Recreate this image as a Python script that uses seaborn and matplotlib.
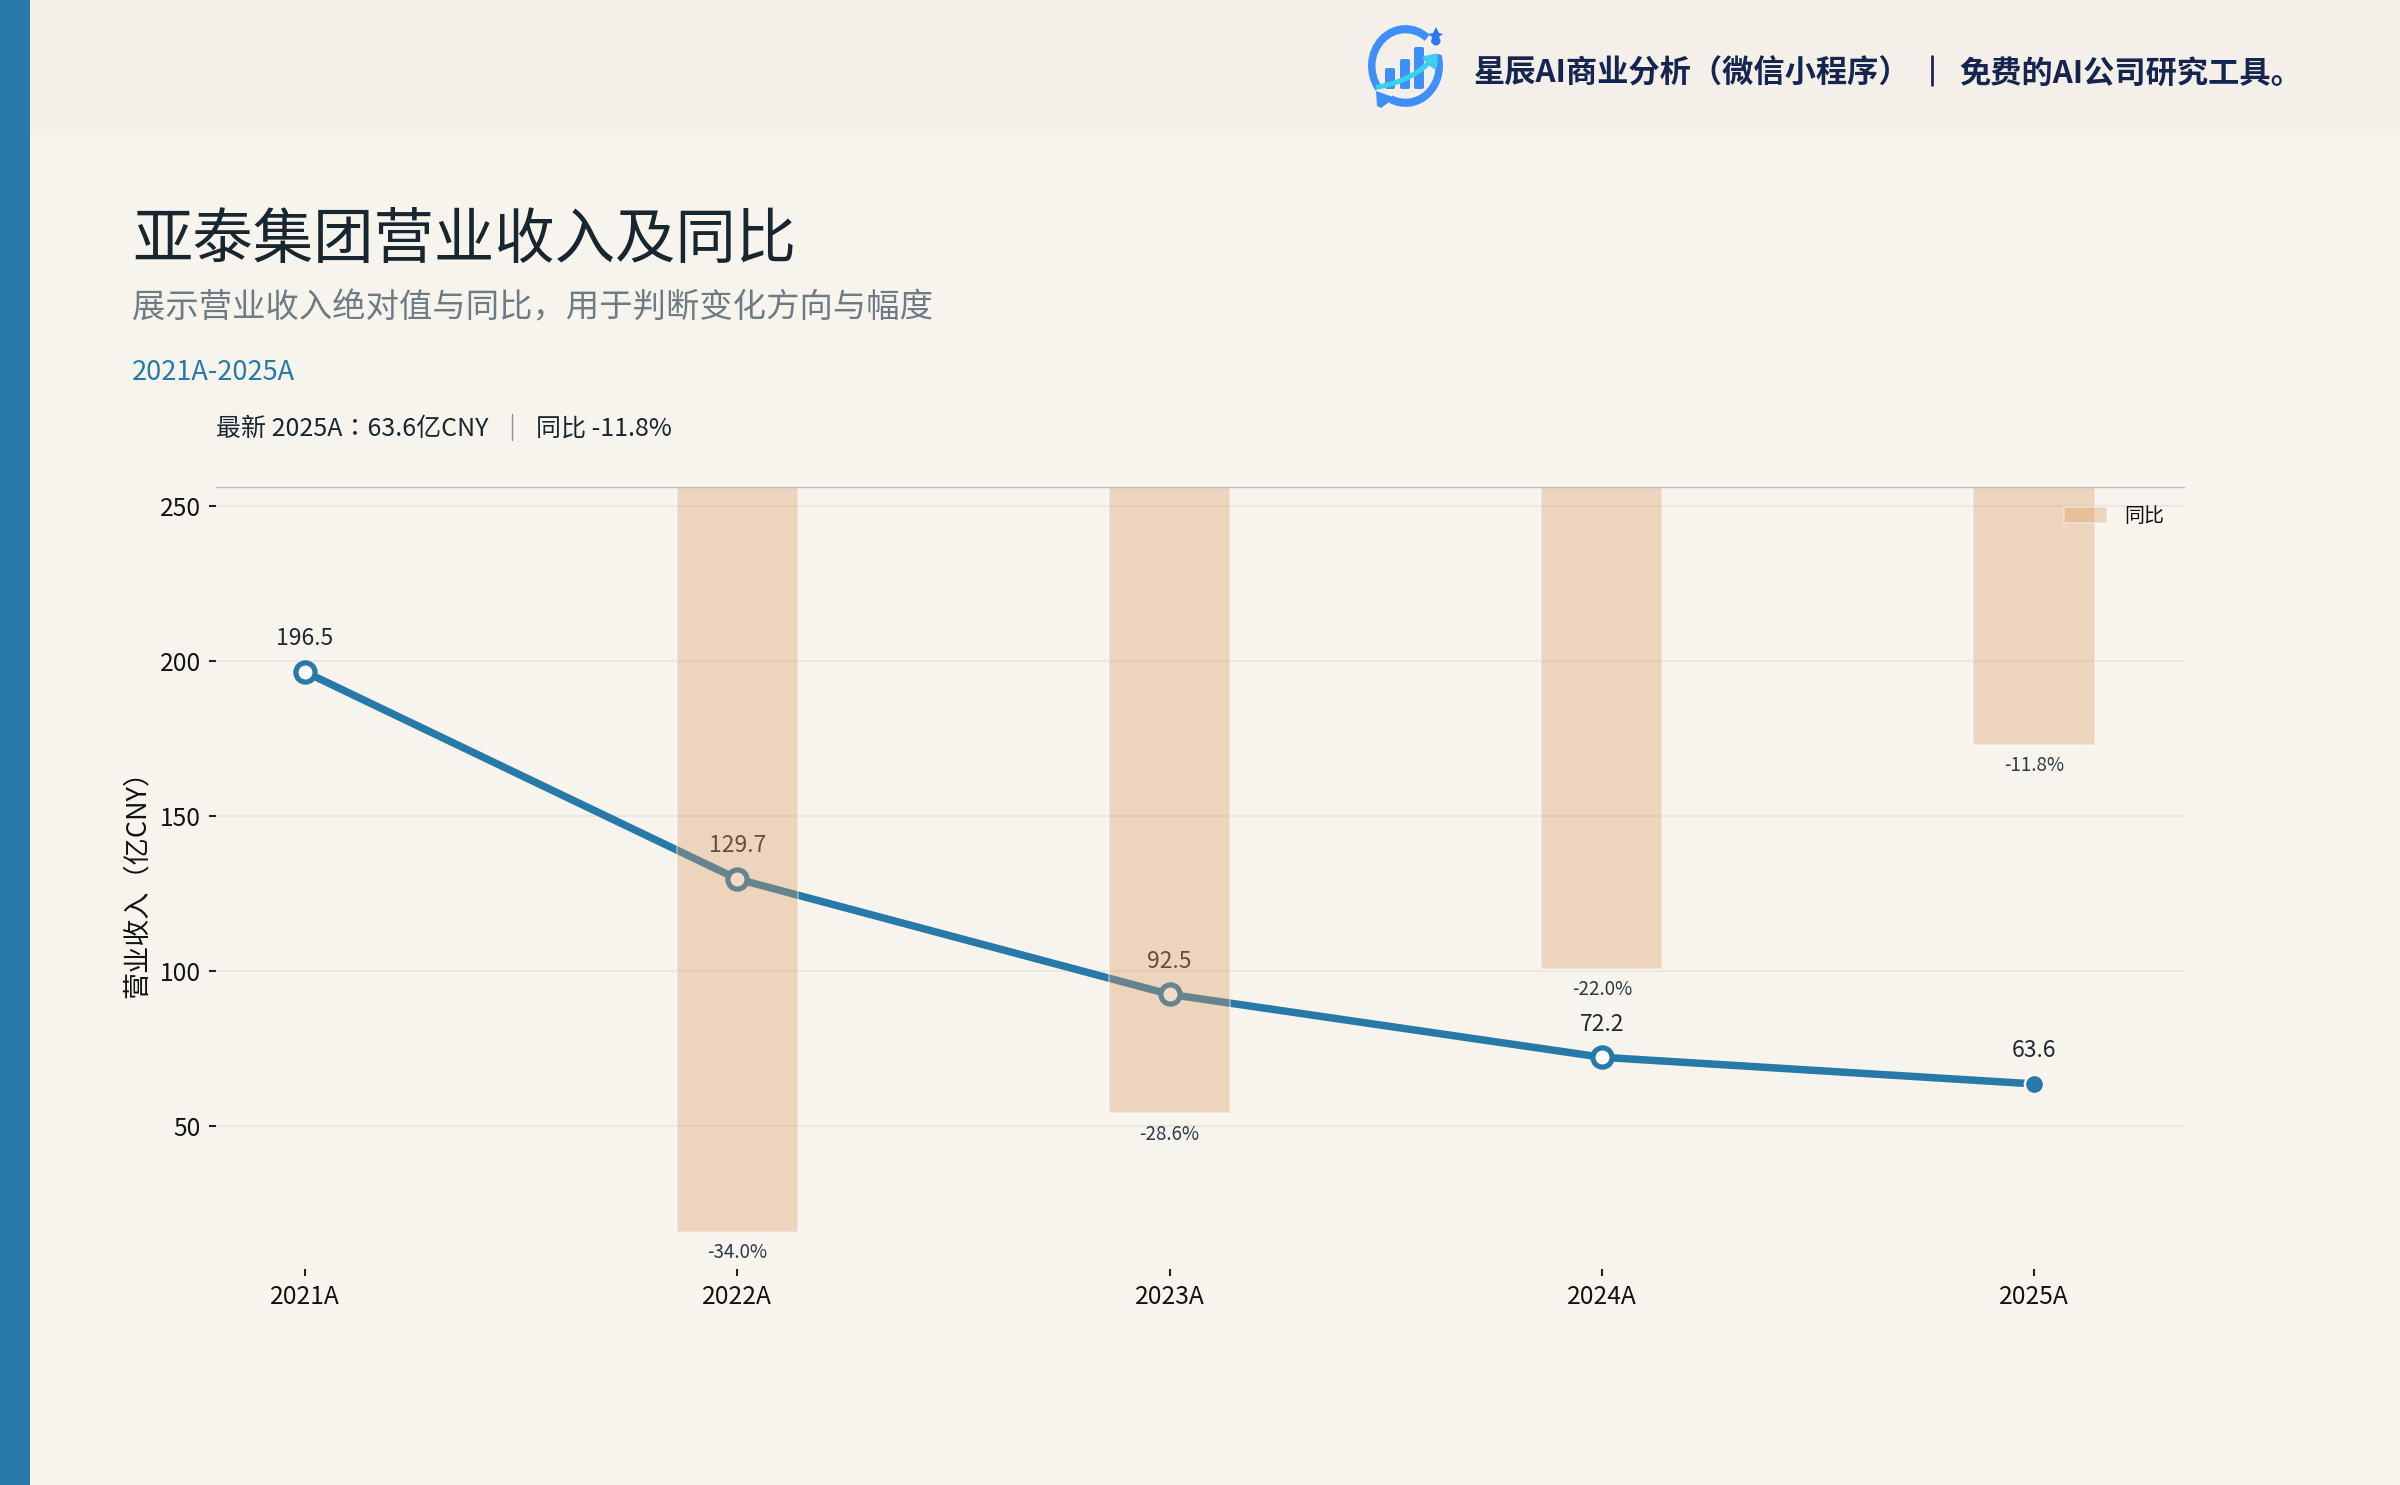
import matplotlib
matplotlib.use("Agg")
import matplotlib.pyplot as plt
from matplotlib.patches import Rectangle, Wedge, Polygon, FancyBboxPatch, FancyArrowPatch, Circle
from matplotlib.transforms import Affine2D
import numpy as np
import pandas as pd
import seaborn as sns

years = ["2021A", "2022A", "2023A", "2024A", "2025A"]
revenue = [196.5, 129.7, 92.5, 72.2, 63.6]
yoy_years = ["2022A", "2023A", "2024A", "2025A"]
yoy = [-34.0, -28.6, -22.0, -11.8]
y_ticks = [50, 100, 150, 200, 250]

TITLE = "亚泰集团营业收入及同比"
SUBTITLE = "展示营业收入绝对值与同比，用于判断变化方向与幅度"
PERIOD = "2021A-2025A"
SUMMARY_A = "最新 2025A：63.6亿CNY"
SUMMARY_B = "同比 -11.8%"
HEADER_A = "星辰AI商业分析（微信小程序）"
HEADER_B = "免费的AI公司研究工具。"
YLABEL = "营业收入（亿CNY）"

BG = "#f7f4ee"
HEAD = "#f4efe8"
BLUE = "#2779a7"
ORANGE = "#dd995f"
INK = "#18262f"
NAVY = "#14264f"
LOGO = "#3f8ffb"
CYAN = "#3ad0ee"
STAR = "#2d78f2"

sns.set_theme(style="white")
plt.rcParams["font.family"] = ["Noto Sans CJK SC", "DejaVu Sans"]
plt.rcParams["axes.unicode_minus"] = False

W, H = 2400, 1485
fig = plt.figure(figsize=(16, 9.9), dpi=150, facecolor=BG)

# page furniture, laid out in pixels
page = fig.add_axes([0, 0, 1, 1], zorder=0)
page.set_xlim(0, W)
page.set_ylim(H, 0)
page.axis("off")
page.add_patch(Rectangle((30, 0), W - 30, 135, color=HEAD, lw=0))
page.add_patch(Rectangle((0, 0), 30, H, color=BLUE, lw=0))

# logo (the page y axis is inverted, so wedge angles run clockwise on screen)
cx, cy, ro, ring = 1405.5, 66, 37.5, 7.5
stretch = Affine2D().translate(-cx, -cy).scale(1, 1.09).translate(cx, cy) + page.transData
page.add_patch(Wedge((cx, cy), ro, 143, 310, width=ring, color=LOGO, lw=0, transform=stretch))
page.add_patch(Wedge((cx, cy), ro, -16, 116, width=ring, color=LOGO, lw=0, transform=stretch))
page.add_patch(Circle((1438, 57.7), 3.7, color=LOGO, lw=0))
for x0, top in [(1385, 68), (1400, 59), (1414, 47)]:
    page.add_patch(FancyBboxPatch((x0 + 1, top + 1), 8, 89 - top - 2,
                                  boxstyle="round,pad=1,rounding_size=2", color=LOGO, lw=0))
page.add_patch(FancyArrowPatch((1378, 87), (1438, 53), connectionstyle="arc3,rad=0.18",
                               arrowstyle="-|>,head_length=4,head_width=3", color=CYAN, lw=2.4,
                               shrinkA=0, shrinkB=0))
page.add_patch(Polygon([(1376, 91), (1393, 97), (1392, 100), (1381, 108), (1377, 106)],
                       closed=True, color=LOGO, lw=0))
star = [(1436, 27), (1439, 33), (1443, 34), (1439, 37), (1440, 43), (1436, 40),
        (1431, 43), (1432, 37), (1428, 34), (1433, 33)]
page.add_patch(Polygon(star, closed=True, color=STAR, lw=0))
page.add_patch(Circle((1436, 41), 4.5, color=STAR, lw=0))

page.text(1474, 74, HEADER_A, fontsize=15, color=NAVY, fontweight="bold", va="center", ha="left")
page.plot([1932, 1932], [56, 85], color=NAVY, lw=1.3)
page.text(1959, 74, HEADER_B, fontsize=15, color=NAVY, fontweight="bold", va="center", ha="left")

page.text(132, 241, TITLE, fontsize=29, color=INK, va="center", ha="left")
page.text(132, 308, SUBTITLE, fontsize=16, color="#6d7b84", va="center", ha="left")
page.text(132, 372, PERIOD, fontsize=13, color=BLUE, va="center", ha="left")
page.text(216, 429, SUMMARY_A, fontsize=12, color=INK, va="center", ha="left",
          family=["Noto Sans CJK TC", "DejaVu Sans"])
page.plot([512, 512], [414, 440], color="#8a959c", lw=0.7)
page.text(536, 429, SUMMARY_B, fontsize=12, color=INK, va="center", ha="left")

# chart
df_rev = pd.DataFrame({"year": years, "revenue": revenue})
df_yoy = pd.DataFrame({"year": yoy_years, "yoy": yoy})

ax = fig.add_axes([216 / W, (H - 1269) / H, 1968 / W, 782.5 / H], zorder=1)
ax.patch.set_alpha(0)
sns.lineplot(data=df_rev, x="year", y="revenue", color=BLUE, lw=3.6, ax=ax, zorder=2, errorbar=None)
sns.scatterplot(data=df_rev.iloc[:-1], x="year", y="revenue", s=85, facecolor="white",
                edgecolor=BLUE, linewidth=2.5, ax=ax, zorder=3, legend=False)
sns.scatterplot(data=df_rev.iloc[-1:], x="year", y="revenue", s=85, color=BLUE,
                edgecolor=BG, linewidth=1.2, ax=ax, zorder=3, legend=False)
for i, v in enumerate(revenue):
    ax.annotate(f"{v:.1f}", (i, v), xytext=(0, 15.9), textcoords="offset points",
                ha="center", va="center", fontsize=11, color="#1f2a33", zorder=4)

ax.set_yticks(y_ticks)
ax.set_ylim(3.9, 256.3)
ax.set_xlim(-0.206, 4.347)
ax.grid(axis="y", color="#e6e5e1", lw=0.8)
ax.set_axisbelow(True)
for s in ax.spines.values():
    s.set_visible(False)
ax.tick_params(axis="both", length=3.4, width=1, color="#222222", labelsize=11.8,
               labelcolor="#111111", pad=3.8, left=True, bottom=True)
ax.set_xlabel("")
ax.set_ylabel(YLABEL, fontsize=13, color="#111111", va="center")
ax.yaxis.set_label_coords((137 - 216) / 1968, 0.5)

ax2 = ax.twinx()
ax2.set_zorder(2)
ax2.patch.set_alpha(0)
sns.barplot(data=df_yoy, x="year", y="yoy", order=years, color=ORANGE, alpha=0.35, saturation=1,
            width=0.28, ax=ax2, label="同比", errorbar=None)
ax2.set_ylim(-35.7, 0)
ax2.set_xlim(-0.206, 4.347)
ax2.set_yticks([])
ax2.set_ylabel("")
ax2.set_xlabel("")
for s in ax2.spines.values():
    s.set_visible(False)
ax2.spines["top"].set_visible(True)
ax2.spines["top"].set_color("#b8c0c2")
ax2.spines["top"].set_linewidth(0.7)
for year, v in zip(yoy_years, yoy):
    ax2.annotate(f"{v:.1f}%", (years.index(year), v), xytext=(0, -10.0), textcoords="offset points",
                 ha="center", va="center", fontsize=9, color="#2c3a47")
leg = ax2.legend(loc="upper right", bbox_to_anchor=(0.997, 0.993), frameon=False, fontsize=9.6,
                 handlelength=2.13, handleheight=0.85, handletextpad=0.85, borderaxespad=0.3)
for t in leg.get_texts():
    t.set_color("#111111")

fig.savefig("out.png", dpi=150, facecolor=BG)
